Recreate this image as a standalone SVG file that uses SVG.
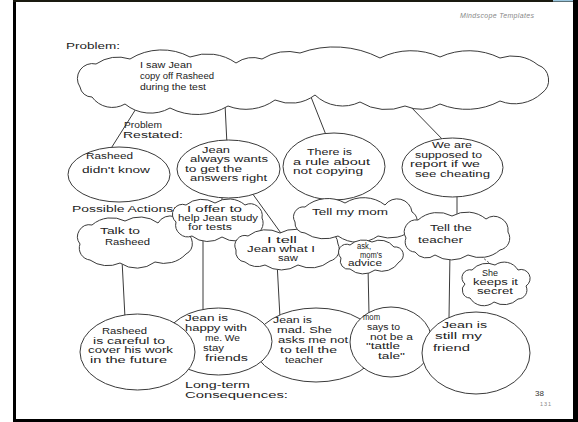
<svg xmlns="http://www.w3.org/2000/svg" width="578" height="422" viewBox="0 0 578 422">
<style>
.ln{stroke:#3a3a3a;stroke-width:1;fill:none}
.dl{stroke:#3a3a3a;stroke-width:1;fill:none;stroke-dasharray:2,2}
.nd{fill:#fff;stroke:#3a3a3a;stroke-width:1}
.t{font-family:"Liberation Sans",Arial,sans-serif;font-size:8.5px;fill:#222}
</style>
<rect x="0" y="0" width="578" height="422" fill="#fff"/>
<g id="frame">
<rect x="13" y="0" width="3" height="422" fill="#000"/>
<rect x="13" y="0" width="565" height="2" fill="#1a1a10"/>
<rect x="553" y="0" width="20" height="1.5" fill="#9cc8e0"/>
<rect x="573" y="0" width="5" height="422" fill="#000"/>
<rect x="13" y="419" width="565" height="3" fill="#000"/>
</g>
<text x="460" y="18" font-family="Liberation Sans, sans-serif" font-size="7" font-style="italic" fill="#888" textLength="74" lengthAdjust="spacing">Mindscope Templates</text>

<g id="connectors">
<path class="ln" d="M139,104 L110,150"/>
<path class="ln" d="M225,104 L227,145"/>
<path class="ln" d="M311,97 L328,140"/>
<path class="ln" d="M408,104 L445,142"/>
<path class="ln" d="M222,195 L222,206"/>
<path class="ln" d="M252,193 L283,236"/>
<path class="ln" d="M335,198 L337,207"/>
<path class="ln" d="M457,195 L457,219"/>
<path class="ln" d="M369,233 L369,245"/>
<path class="ln" d="M122,260 L125,318"/>
<path class="ln" d="M203,235 L203,312"/>
<path class="ln" d="M277,262 L280,318"/>
<path class="ln" d="M368,267 L369,314"/>
<path class="ln" d="M450,252 L449,318"/>
<path class="dl" d="M478,254 Q486,260 494,267"/>
</g>

<g id="labels">
<text class="t" x="66" y="49" font-size="12" textLength="54" lengthAdjust="spacingAndGlyphs">Problem:</text>
<text class="t" x="124" y="127.5" font-size="9.5" textLength="38" lengthAdjust="spacingAndGlyphs">Problem</text>
<text class="t" x="123" y="138" font-size="9.5" textLength="60" lengthAdjust="spacingAndGlyphs">Restated:</text>
<text class="t" x="72" y="212" font-size="11" textLength="105" lengthAdjust="spacingAndGlyphs">Possible Actions:</text>
<text class="t" x="185" y="387.5" font-size="9.5" textLength="65" lengthAdjust="spacingAndGlyphs">Long-term</text>
<text class="t" x="185" y="398" font-size="9.5" textLength="103" lengthAdjust="spacingAndGlyphs">Consequences:</text>
</g>

<g id="problem">
<path class="nd" transform="translate(0,5)" d="M80,82 A15,15 0 0 1 96,59 A40,40 0 0 1 130,54 A60,60 0 0 1 190,52 A50,50 0 0 1 236,58 A30,30 0 0 1 262,54 A50,50 0 0 1 300,48 A100,100 0 0 1 380,53 A70,70 0 0 1 440,52 A70,70 0 0 1 500,53 A40,40 0 0 1 538,60 A16,16 0 0 1 542,88 A40,40 0 0 1 500,96 A70,70 0 0 1 440,99 A40,40 0 0 1 405,101 A50,50 0 0 1 360,97 A40,40 0 0 1 315,90 A40,40 0 0 1 275,95 A50,50 0 0 1 228,101 A60,60 0 0 1 170,103 A40,40 0 0 1 125,99 A25,25 0 0 1 92,92 A12,12 0 0 1 80,82 Z"/>
<text class="t" x="140" y="68" font-size="9.8" textLength="52" lengthAdjust="spacingAndGlyphs">I saw Jean</text>
<text class="t" x="140" y="79" font-size="9.8" textLength="74" lengthAdjust="spacingAndGlyphs">copy off Rasheed</text>
<text class="t" x="140" y="90" font-size="9.8" textLength="66" lengthAdjust="spacingAndGlyphs">during the test</text>
</g>

<g id="restated-1">
<ellipse class="nd" cx="119" cy="174.5" rx="51" ry="27.5"/>
<text class="t" x="86" y="159" font-size="10.5" textLength="47" lengthAdjust="spacingAndGlyphs">Rasheed</text>
<text class="t" x="82" y="173" font-size="10.5" textLength="68" lengthAdjust="spacingAndGlyphs">didn't know</text>
</g>
<g id="restated-2">
<ellipse class="nd" cx="228.5" cy="169" rx="51.5" ry="29"/>
<text class="t" x="202" y="153" font-size="8.2" textLength="28" lengthAdjust="spacingAndGlyphs">Jean</text>
<text class="t" x="190" y="162" font-size="8.2" textLength="78" lengthAdjust="spacingAndGlyphs">always wants</text>
<text class="t" x="185" y="171.5" font-size="8.2" textLength="57" lengthAdjust="spacingAndGlyphs">to get the</text>
<text class="t" x="190" y="181" font-size="8.2" textLength="77" lengthAdjust="spacingAndGlyphs">answers right</text>
</g>
<g id="restated-3">
<ellipse class="nd" cx="334" cy="166.5" rx="51" ry="33.5"/>
<text class="t" x="307" y="155" textLength="45" lengthAdjust="spacingAndGlyphs">There is</text>
<text class="t" x="293" y="164.5" textLength="77" lengthAdjust="spacingAndGlyphs">a rule about</text>
<text class="t" x="293" y="174" textLength="70" lengthAdjust="spacingAndGlyphs">not copying</text>
</g>
<g id="restated-4">
<ellipse class="nd" cx="452.5" cy="167.5" rx="50.5" ry="29.5"/>
<text class="t" x="432" y="148" textLength="40" lengthAdjust="spacingAndGlyphs">We are</text>
<text class="t" x="415" y="157.5" textLength="67" lengthAdjust="spacingAndGlyphs">supposed to</text>
<text class="t" x="410" y="167" textLength="70" lengthAdjust="spacingAndGlyphs">report if we</text>
<text class="t" x="415" y="176.5" textLength="75" lengthAdjust="spacingAndGlyphs">see cheating</text>
</g>

<g id="action-talk">
<path class="nd" d="M80,244 A12,12 0 0 1 92,225 A30,30 0 0 1 125,221 A30,30 0 0 1 158,223 A14,14 0 0 1 184,232 A12,12 0 0 1 186,254 A30,30 0 0 1 155,262 A30,30 0 0 1 120,263 A30,30 0 0 1 90,260 A12,12 0 0 1 80,244 Z"/>
<text class="t" x="100" y="234" font-size="9.5" textLength="40" lengthAdjust="spacingAndGlyphs">Talk to</text>
<text class="t" x="105" y="245" font-size="9.5" textLength="45" lengthAdjust="spacingAndGlyphs">Rasheed</text>
</g>
<g id="action-offer">
<path class="nd" d="M176,222 A10,10 0 0 1 186,205 A25,25 0 0 1 215,203 A25,25 0 0 1 245,205 A12,12 0 0 1 262,218 A12,12 0 0 1 252,235 A25,25 0 0 1 222,237 A25,25 0 0 1 192,236 A12,12 0 0 1 176,222 Z"/>
<text class="t" x="187" y="212" font-size="8" textLength="55" lengthAdjust="spacingAndGlyphs">I offer to</text>
<text class="t" x="178" y="221" font-size="8" textLength="80" lengthAdjust="spacingAndGlyphs">help Jean study</text>
<text class="t" x="188" y="230" font-size="8" textLength="44" lengthAdjust="spacingAndGlyphs">for tests</text>
</g>
<g id="action-tell">
<path class="nd" d="M236,250 A10,10 0 0 1 248,236 A30,30 0 0 1 280,233 A30,30 0 0 1 312,235 A15,15 0 0 1 338,244 A12,12 0 0 1 330,261 A30,30 0 0 1 298,265 A30,30 0 0 1 265,265 A20,20 0 0 1 245,262 A10,10 0 0 1 236,250 Z"/>
<text class="t" x="267" y="243" font-size="8" textLength="30" lengthAdjust="spacingAndGlyphs">I tell</text>
<text class="t" x="247" y="252" font-size="8" textLength="68" lengthAdjust="spacingAndGlyphs">Jean what I</text>
<text class="t" x="278" y="261" font-size="8" textLength="20" lengthAdjust="spacingAndGlyphs">saw</text>
</g>
<g id="action-mom">
<path class="nd" d="M295,222 A10,10 0 0 1 305,207 A35,35 0 0 1 345,203 A35,35 0 0 1 385,205 A15,15 0 0 1 412,212 A10,10 0 0 1 414,228 A35,35 0 0 1 378,236 A35,35 0 0 1 338,236 A35,35 0 0 1 305,233 A10,10 0 0 1 295,222 Z"/>
<text class="t" x="312" y="215" font-size="10.5" textLength="76" lengthAdjust="spacingAndGlyphs">Tell my mom</text>
</g>
<g id="action-ask">
<path class="nd" d="M341,258 A8,8 0 0 1 350,245 A20,20 0 0 1 372,242 A18,18 0 0 1 394,247 A8,8 0 0 1 399,262 A20,20 0 0 1 375,270 A20,20 0 0 1 350,269 A8,8 0 0 1 341,258 Z"/>
<text class="t" x="357" y="249" font-size="6" textLength="14" lengthAdjust="spacingAndGlyphs">ask,</text>
<text class="t" x="360" y="257.5" font-size="6" textLength="22" lengthAdjust="spacingAndGlyphs">mom's</text>
<text class="t" x="348" y="266" font-size="6" textLength="34" lengthAdjust="spacingAndGlyphs">advice</text>
</g>
<g id="action-teacher">
<path class="nd" d="M406,238 A12,12 0 0 1 418,220 A30,30 0 0 1 452,216 A30,30 0 0 1 486,219 A14,14 0 0 1 508,232 A12,12 0 0 1 500,250 A30,30 0 0 1 468,255 A30,30 0 0 1 435,255 A14,14 0 0 1 415,252 A10,10 0 0 1 406,238 Z"/>
<text class="t" x="430" y="231" font-size="10.5" textLength="42" lengthAdjust="spacingAndGlyphs">Tell the</text>
<text class="t" x="418" y="243" font-size="10.5" textLength="45" lengthAdjust="spacingAndGlyphs">teacher</text>
</g>
<g id="action-secret">
<path class="nd" d="M465,284 A8,8 0 0 1 472,270 A20,20 0 0 1 495,265 A16,16 0 0 1 518,270 A9,9 0 0 1 526,286 A9,9 0 0 1 518,299 A20,20 0 0 1 494,302 A16,16 0 0 1 470,298 A8,8 0 0 1 465,284 Z"/>
<text class="t" x="482" y="276" font-size="8" textLength="16" lengthAdjust="spacingAndGlyphs">She</text>
<text class="t" x="473" y="285" font-size="8" textLength="45" lengthAdjust="spacingAndGlyphs">keeps it</text>
<text class="t" x="477" y="294" font-size="8" textLength="36" lengthAdjust="spacingAndGlyphs">secret</text>
</g>

<g id="consequence-3">
<ellipse class="nd" cx="316" cy="345" rx="62" ry="37"/>
<text class="t" x="273" y="323" font-size="8.8" textLength="39" lengthAdjust="spacingAndGlyphs">Jean is</text>
<text class="t" x="277" y="333" font-size="8.8" textLength="55" lengthAdjust="spacingAndGlyphs">mad. She</text>
<text class="t" x="278" y="343" font-size="8.8" textLength="70" lengthAdjust="spacingAndGlyphs">asks me not</text>
<text class="t" x="280" y="353" font-size="8.8" textLength="57" lengthAdjust="spacingAndGlyphs">to tell the</text>
<text class="t" x="285" y="363" font-size="8.8" textLength="38" lengthAdjust="spacingAndGlyphs">teacher</text>
</g>
<g id="consequence-4">
<ellipse class="nd" cx="391" cy="342" rx="41" ry="35"/>
<text class="t" x="363" y="320" font-size="8.3" textLength="17" lengthAdjust="spacingAndGlyphs">mom</text>
<text class="t" x="367" y="330" font-size="8.3" textLength="33" lengthAdjust="spacingAndGlyphs">says to</text>
<text class="t" x="370" y="339.5" font-size="8.3" textLength="43" lengthAdjust="spacingAndGlyphs">not be a</text>
<text class="t" x="366" y="349" font-size="8.3" textLength="34" lengthAdjust="spacingAndGlyphs">"tattle</text>
<text class="t" x="378" y="358.5" font-size="8.3" textLength="27" lengthAdjust="spacingAndGlyphs">tale"</text>
</g>
<g id="consequence-5">
<ellipse class="nd" cx="476" cy="353" rx="54" ry="41"/>
<text class="t" x="442" y="328" font-size="9" textLength="45" lengthAdjust="spacingAndGlyphs">Jean is</text>
<text class="t" x="435" y="338.5" font-size="9" textLength="47" lengthAdjust="spacingAndGlyphs">still my</text>
<text class="t" x="433" y="351" font-size="9" textLength="37" lengthAdjust="spacingAndGlyphs">friend</text>
</g>
<g id="consequence-2">
<ellipse class="nd" cx="218.5" cy="341.5" rx="53.5" ry="33.5"/>
<text class="t" x="185" y="321" textLength="43" lengthAdjust="spacingAndGlyphs">Jean is</text>
<text class="t" x="185" y="331" textLength="62" lengthAdjust="spacingAndGlyphs">happy with</text>
<text class="t" x="205" y="341" textLength="35" lengthAdjust="spacingAndGlyphs">me. We</text>
<text class="t" x="203" y="350.5" textLength="21" lengthAdjust="spacingAndGlyphs">stay</text>
<text class="t" x="205" y="360.5" textLength="43" lengthAdjust="spacingAndGlyphs">friends</text>
</g>
<g id="consequence-1">
<ellipse class="nd" cx="137.5" cy="352" rx="57.5" ry="38"/>
<text class="t" x="102" y="334" font-size="8.4" textLength="45" lengthAdjust="spacingAndGlyphs">Rasheed</text>
<text class="t" x="93" y="343.5" font-size="8.4" textLength="72" lengthAdjust="spacingAndGlyphs">is careful to</text>
<text class="t" x="88" y="353" font-size="8.4" textLength="85" lengthAdjust="spacingAndGlyphs">cover his work</text>
<text class="t" x="90" y="362.5" font-size="8.4" textLength="77" lengthAdjust="spacingAndGlyphs">in the future</text>
</g>

<text x="535" y="396" font-family="Liberation Sans, sans-serif" font-size="8" fill="#333">38</text>
<text x="540" y="406" font-family="Liberation Sans, sans-serif" font-size="5.5" fill="#888" textLength="11" lengthAdjust="spacing">131</text>
</svg>
